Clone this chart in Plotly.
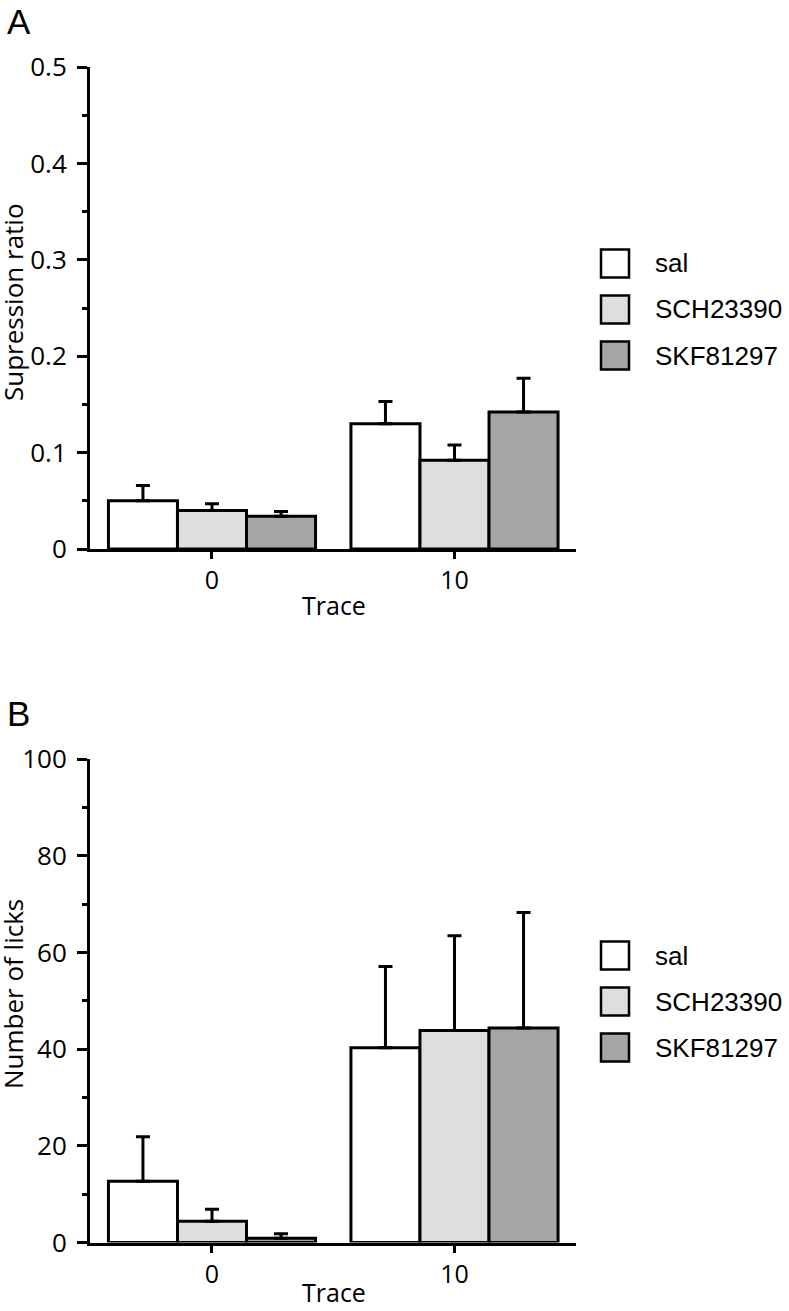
import plotly.graph_objects as go

# ---- data ----
groups = ["0", "10"]
series = ["sal", "SCH23390", "SKF81297"]
colors = ["#ffffff", "#dedede", "#a5a5a5"]

# Panel A: suppression ratio (mean, upper error)
a_sal = [0.050, 0.130]
a_sal_err = [0.016, 0.023]
a_sch = [0.040, 0.092]
a_sch_err = [0.007, 0.016]
a_skf = [0.034, 0.142]
a_skf_err = [0.005, 0.035]

# Panel B: number of licks (mean, upper error)
b_sal = [12.7, 40.3]
b_sal_err = [9.2, 16.8]
b_sch = [4.4, 43.9]
b_sch_err = [2.5, 19.6]
b_skf = [0.9, 44.4]
b_skf_err = [0.9, 23.9]

W, H = 789, 1311
def px(x):
    return x / W
def py(y):
    return 1 - y / H

FONT = "Open Sans"
fig = go.Figure()

panels = [
    ("x", "y", [a_sal, a_sch, a_skf], [a_sal_err, a_sch_err, a_skf_err]),
    ("x2", "y2", [b_sal, b_sch, b_skf], [b_sal_err, b_sch_err, b_skf_err]),
]
for xa, ya, means, errs in panels:
    for name, col, m, e in zip(series, colors, means, errs):
        fig.add_trace(go.Bar(
            x=[0, 1], y=m, name=name, xaxis=xa, yaxis=ya, showlegend=False,
            marker=dict(color=col, line=dict(color="black", width=3)),
            error_y=dict(type="data", symmetric=False, array=e, arrayminus=[0, 0],
                         color="black", thickness=3, width=7),
        ))

x_dom = [px(90), px(576)]
xcommon = dict(range=[-0.503, 1.501], tickvals=[0, 1], ticktext=groups,
               showline=True, linecolor="black", linewidth=3, ticks="outside",
               ticklen=7, tickwidth=3, tickcolor="black", showgrid=False,
               zeroline=False, tickfont=dict(family=FONT, size=25, color="black"),
               domain=x_dom, fixedrange=True, automargin=False)
ycommon = dict(showline=True, linecolor="black", linewidth=3, ticks="outside",
               ticklen=10, tickwidth=3, tickcolor="black", showgrid=False,
               zeroline=False, tickfont=dict(family=FONT, size=26, color="black"),
               ticklabelstandoff=5, automargin=False)

fig.update_layout(
    template="none",
    width=W, height=H, margin=dict(l=0, r=0, t=0, b=0, pad=0),
    paper_bgcolor="white", plot_bgcolor="white",
    barmode="group", bargap=0.146, bargroupgap=0,
    xaxis=dict(**xcommon, anchor="y"),
    xaxis2=dict(**xcommon, anchor="y2"),
    yaxis=dict(**ycommon, range=[0, 0.5], dtick=0.1, anchor="x",
               domain=[py(549), py(67)],
               minor=dict(dtick=0.05, ticks="outside", ticklen=5, tickwidth=3,
                          tickcolor="black", showgrid=False)),
    yaxis2=dict(**ycommon, range=[0, 100], dtick=20, anchor="x2",
                domain=[py(1242.5), py(759.3)],
                minor=dict(dtick=10, ticks="outside", ticklen=5, tickwidth=3,
                           tickcolor="black", showgrid=False)),
)

annotations = []
shapes = []
offsets = [0, 692]
ytitles = ["Supression ratio", "Number of licks"]
letters = ["A", "B"]
for off, yt, letter in zip(offsets, ytitles, letters):
    annotations.append(dict(text=letter, x=px(5), y=py(0 + off), xref="paper", yref="paper",
                            xanchor="left", yanchor="top", showarrow=False,
                            font=dict(family="Liberation Sans", size=35, color="black")))
    annotations.append(dict(text=yt, x=px(13), y=py(302 + off), xref="paper", yref="paper",
                            xanchor="center", yanchor="middle", textangle=-90, showarrow=False,
                            font=dict(family=FONT, size=26, color="black")))
    if off == 0:
        annotations.append(dict(text="Trace", x=px(334), y=py(605), xref="paper", yref="paper",
                                xanchor="center", yanchor="middle", showarrow=False,
                                font=dict(family=FONT, size=25, color="black")))
    else:
        annotations.append(dict(text="Trace", x=px(334), y=0, xref="paper", yref="paper",
                                xanchor="center", yanchor="bottom", showarrow=False,
                                font=dict(family=FONT, size=25, color="black")))
    for i, (name, col) in enumerate(zip(series, colors)):
        cy = 263.5 + 46 * i + off
        shapes.append(dict(type="rect", xref="paper", yref="paper",
                           x0=px(601), x1=px(629), y0=py(cy + 14), y1=py(cy - 14),
                           fillcolor=col, line=dict(color="black", width=2.5)))
        annotations.append(dict(text=name, x=px(653), y=py(cy), xref="paper", yref="paper",
                                xanchor="left", yanchor="middle", showarrow=False,
                                font=dict(family="Liberation Sans", size=26, color="black")))

fig.update_layout(annotations=annotations, shapes=shapes)
fig.write_html("out.html", config={"displayModeBar": False},
               post_script="document.body.style.margin='0';document.body.style.overflow='hidden';")
